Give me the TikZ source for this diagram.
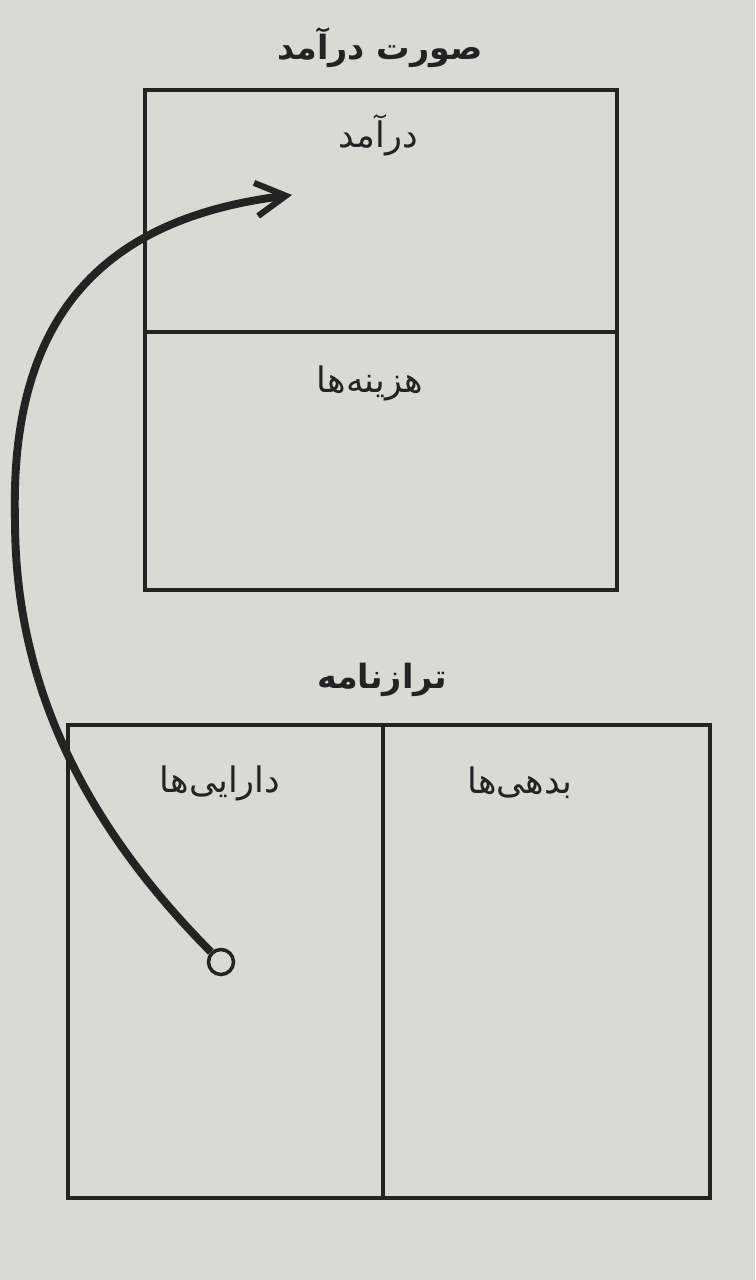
\documentclass[tikz,border=0pt]{standalone}
\usepackage{fontspec}
\newfontfamily\farsi[Script=Arabic]{DejaVu Sans}
\TeXXeTstate=1
\usetikzlibrary{arrows.meta}
\newcommand{\fa}[1]{{\farsi\beginR #1\endR}}
\definecolor{paper}{RGB}{218,218,213}
\definecolor{ink}{RGB}{35,35,35}

\begin{document}
\begin{tikzpicture}[x=0.02cm,y=-0.02cm,
	box/.style={draw=ink, line width=2.2pt},
	lbl/.style={text=ink, font=\fontsize{20}{22}\selectfont},
	ttl/.style={text=ink, font=\fontsize{19}{21}\selectfont\bfseries}]
	\fill[paper] (0,0) rectangle (755,1280);
	\useasboundingbox (0,0) rectangle (755,1280);
	% income statement
	\node[ttl] (inctitle) at (380,48) {\fa{صورت درآمد}};
	\draw[box] (145,90) rectangle (617,590);
	\draw[box] (145,332) -- (617,332);
	\node[lbl] (income) at (378,135) {\fa{درآمد}};
	\node[lbl] (costs) at (370,383) {\fa{هزینه‌ها}};
	% balance sheet
	\node[ttl] (baltitle) at (382,680) {\fa{ترازنامه}};
	\draw[box] (68,725) rectangle (710,1198);
	\draw[box] (383,725) -- (383,1198);
	\node[lbl] (assets) at (220,783) {\fa{دارایی‌ها}};
	\node[lbl] (debts) at (520,783) {\fa{بدهی‌ها}};
	% arrow
	\node[draw=ink, circle, line width=2pt, minimum size=0.5cm, inner sep=0] (dot) at (221,962) {};
	\coordinate (tip) at (292,195);
	\coordinate (mid) at (15,520);
	\draw[ink, line width=4.5pt, -{Straight Barb[length=17pt,width=19pt,line width=3.5pt]}]
		(dot.north west) .. controls (80,820) and (15,680) .. (mid)
		.. controls (10,330) and (90,220) .. (tip);
\end{tikzpicture}
\end{document}
